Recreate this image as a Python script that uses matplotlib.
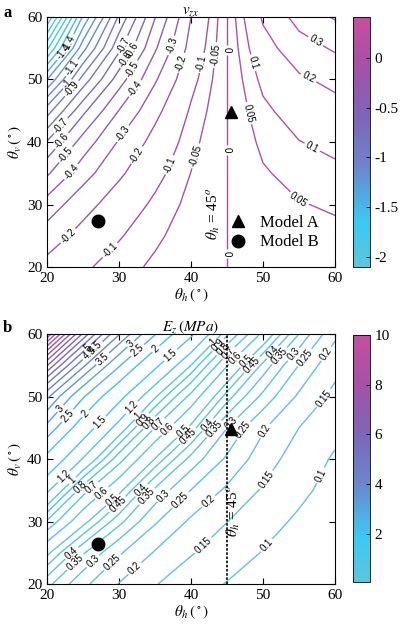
"""
Contour maps of v_zx and E_z over the two strut angles (theta_h, theta_v).
Grid values are read off the reference figure at 5 degree steps.
"""

import numpy as np
import matplotlib

matplotlib.use("Agg")
import matplotlib.pyplot as plt
from matplotlib.colors import LinearSegmentedColormap, Normalize
from matplotlib.cm import ScalarMappable
from matplotlib.lines import Line2D

plt.rcParams["font.family"] = ["Liberation Serif", "DejaVu Serif"]
plt.rcParams["mathtext.fontset"] = "stix"
plt.rcParams["axes.unicode_minus"] = False

# --- data -----------------------------------------------------------------
theta_h = [20, 25, 30, 35, 40, 45, 50, 55, 60]
theta_v = [20, 25, 30, 35, 40, 45, 50, 55, 60]

# rows: theta_v = 20 ... 60, columns: theta_h = 20 ... 60
vzx = [
    [-0.168, -0.111, -0.071, -0.040, -0.016, 0.0, 0.011, 0.017, 0.021],
    [-0.252, -0.166, -0.106, -0.060, -0.024, 0.0, 0.019, 0.030, 0.037],
    [-0.357, -0.236, -0.150, -0.086, -0.034, 0.0, 0.030, 0.047, 0.057],
    [-0.515, -0.340, -0.216, -0.123, -0.049, 0.0, 0.044, 0.069, 0.084],
    [-0.693, -0.457, -0.291, -0.166, -0.066, 0.0, 0.062, 0.098, 0.119],
    [-0.945, -0.624, -0.397, -0.227, -0.090, 0.0, 0.085, 0.135, 0.164],
    [-1.302, -0.859, -0.547, -0.312, -0.124, 0.0, 0.117, 0.185, 0.226],
    [-1.722, -1.137, -0.723, -0.413, -0.164, 0.0, 0.162, 0.256, 0.312],
    [-2.100, -1.386, -0.882, -0.504, -0.200, 0.0, 0.213, 0.336, 0.410],
]

ez = [
    [0.368, 0.264, 0.198, 0.153, 0.121, 0.098, 0.081, 0.070, 0.062],
    [0.517, 0.357, 0.257, 0.196, 0.154, 0.124, 0.098, 0.082, 0.069],
    [0.787, 0.527, 0.368, 0.257, 0.192, 0.151, 0.118, 0.093, 0.076],
    [1.246, 0.741, 0.522, 0.340, 0.249, 0.192, 0.145, 0.111, 0.085],
    [1.859, 1.185, 0.741, 0.497, 0.333, 0.242, 0.176, 0.127, 0.095],
    [2.858, 1.733, 1.105, 0.698, 0.482, 0.301, 0.206, 0.150, 0.113],
    [4.137, 2.560, 1.616, 1.020, 0.670, 0.427, 0.287, 0.192, 0.138],
    [6.554, 4.137, 2.560, 1.584, 1.000, 0.607, 0.387, 0.249, 0.165],
    [10.00, 6.424, 4.055, 2.535, 1.568, 0.923, 0.577, 0.350, 0.212],
]

levels_vzx = [-2.0, -1.9, -1.8, -1.7, -1.6, -1.5, -1.4, -1.3, -1.2, -1.1, -1.0,
              -0.9, -0.8, -0.7, -0.6, -0.5, -0.4, -0.3, -0.2, -0.1, -0.05,
              0.0, 0.05, 0.1, 0.2, 0.3, 0.4]
levels_ez = [0.1, 0.15, 0.2, 0.25, 0.3, 0.35, 0.4, 0.45, 0.5, 0.6, 0.7, 0.8,
             0.9, 1.0, 1.2, 1.5, 2.0, 2.5, 3.0, 3.5, 4.0, 4.5, 5.0, 5.5, 6.0,
             6.5, 7.0, 7.5, 8.0, 8.5, 9.0, 9.5]

# the two prototypes (theta_h, theta_v)
model_a_a = (45.6, 44.8)
model_b_a = (27.1, 27.4)
model_a_b = (45.6, 44.8)
model_b_b = (27.1, 26.4)

theta_ref = 45

# --- layout: where the contour labels sit (theta_h, theta_v) ---------------
label_pos_a = [(23.0, 55.8), (22.5, 54.5), (23.2, 52.1), (23.0, 49.1), (23.7, 48.3),
               (30.1, 55.8), (31.3, 55.0), (31.5, 53.4), (32.0, 51.5), (32.2, 48.6),
               (37.8, 55.3), (38.9, 52.6), (41.7, 52.6), (43.3, 53.9), (45.0, 54.7),
               (48.4, 52.6), (57.0, 55.5), (56.3, 50.2), (57.0, 39.5), (48.0, 44.6),
               (54.9, 30.7), (45.0, 38.7), (45.0, 22.2), (40.6, 37.8), (37.1, 36.3),
               (32.5, 37.9), (30.8, 41.1), (22.3, 42.2), (21.6, 40.6), (22.7, 37.9),
               (23.4, 35.2), (23.0, 24.9), (28.75, 22.7)]

label_pos_b = [(25.5, 58.0), (26.0, 56.7), (27.1, 57.5), (27.6, 56.2), (31.5, 58.6),
               (32.5, 57.5), (35.0, 57.8), (37.1, 56.7), (43.0, 58.8), (43.8, 58.2),
               (44.4, 57.6), (45.2, 57.0), (46.1, 56.2), (47.7, 55.6), (48.4, 55.1),
               (51.4, 57.0), (52.6, 56.2), (54.0, 57.0), (55.8, 56.2), (58.6, 57.0),
               (57.9, 50.3), (22.0, 47.9), (23.0, 46.8), (25.5, 47.1), (27.4, 45.8),
               (31.8, 48.2), (32.7, 46.8), (33.3, 46.3), (34.0, 46.0), (35.5, 45.5),
               (36.8, 44.7), (38.9, 44.4), (39.4, 43.9), (42.4, 45.4), (43.1, 44.9),
               (46.2, 45.0), (47.5, 44.4), (50.5, 44.4), (22.3, 37.2), (23.7, 36.4),
               (24.6, 35.6), (26.2, 35.4), (27.6, 34.6), (29.0, 33.6), (29.7, 32.9),
               (33.2, 34.9), (33.8, 34.1), (36.4, 33.9), (38.7, 33.3), (42.4, 33.3),
               (50.5, 36.6), (58.0, 37.4), (23.4, 25.0), (23.9, 23.6), (26.4, 23.6),
               (28.75, 23.9), (32.2, 22.5), (41.7, 26.2), (50.5, 26.2)]

cmap = LinearSegmentedColormap.from_list(
    "teal_magenta",
    [(0.0, "#5cc6da"), (0.18, "#3bc9f3"), (0.4, "#6b86cc"),
     (0.6, "#7f65b6"), (0.8, "#a352a8"), (1.0, "#c84e9e")],
)

TH, TV = np.meshgrid(theta_h, theta_v)
VZX = np.array(vzx)
EZ = np.array(ez)

fig = plt.figure(figsize=(4, 6.29), dpi=100)
ax_a = fig.add_axes([0.1175, 0.5755, 0.72, 0.3975])
cax_a = fig.add_axes([0.8825, 0.5755, 0.0425, 0.3975])
ax_b = fig.add_axes([0.1175, 0.0715, 0.72, 0.3975])
cax_b = fig.add_axes([0.8825, 0.0747, 0.0425, 0.3927])


def style_axes(ax):
    ax.set_xlim(20, 60)
    ax.set_ylim(20, 60)
    ax.set_xticks([20, 30, 40, 50, 60])
    ax.set_yticks([20, 30, 40, 50, 60])
    ax.tick_params(direction="in", top=True, right=True, length=4,
                   labelsize=11, width=0.8)
    ax.set_xlabel(r"$\theta_h\,(^\circ)$", fontsize=11, labelpad=1)
    ax.set_ylabel(r"$\theta_v\,(^\circ)$", fontsize=11, labelpad=2)
    for s in ax.spines.values():
        s.set_linewidth(0.8)


def style_cbar(cb):
    cb.ax.tick_params(direction="in", length=3, labelsize=11, width=0.6)
    cb.outline.set_linewidth(0.6)


# --- a: Poisson's ratio ---------------------------------------------------
norm_a = Normalize(VZX.min(), VZX.max())
cs_a = ax_a.contour(TH, TV, VZX, levels=levels_vzx,
                    colors=[cmap(norm_a(l)) for l in levels_vzx], linewidths=1.0)
with plt.rc_context({"font.family": ["Liberation Sans", "DejaVu Sans"]}):
    ax_a.clabel(cs_a, fmt="%g", fontsize=7, colors="k", inline=True,
                inline_spacing=2, manual=label_pos_a)

ax_a.plot(*model_a_a, "^", color="k", ms=8)
ax_a.plot(*model_b_a, "o", color="k", ms=9)
ax_a.text(43.1, 28.5, r"$\theta_h$ = 45$^o$", rotation=90, fontsize=11,
          ha="center", va="center")
handles = [Line2D([], [], ls="", marker="^", color="k", ms=8),
           Line2D([], [], ls="", marker="o", color="k", ms=9)]
ax_a.legend(handles, ["Model A", "Model B"], loc="lower right", frameon=False,
            fontsize=12, handletextpad=0.3, borderaxespad=0.6, labelspacing=0.2)
ax_a.set_title(r"$v_{zx}$", fontsize=11, pad=3)
style_axes(ax_a)

cb_a = fig.colorbar(ScalarMappable(norm=norm_a, cmap=cmap), cax=cax_a)
cb_a.set_ticks([-2, -1.5, -1, -0.5, 0])
cb_a.set_ticklabels(["-2", "-1.5", "-1", "-0.5", "0"])
style_cbar(cb_a)

# --- b: Young's modulus (contoured on log scale so spacing follows the map)
norm_b = Normalize(EZ.min(), EZ.max())
cs_b = ax_b.contour(TH, TV, np.log(EZ), levels=np.log(levels_ez),
                    colors=[cmap(norm_b(l)) for l in levels_ez], linewidths=1.0)
fmt_b = {lv: f"{v:g}" for lv, v in zip(cs_b.levels, levels_ez)}
with plt.rc_context({"font.family": ["Liberation Sans", "DejaVu Sans"]}):
    ax_b.clabel(cs_b, fmt=fmt_b, fontsize=7, colors="k", inline=True,
                inline_spacing=2, manual=label_pos_b)

ax_b.axvline(theta_ref, color="k", ls=(0, (1.5, 1)), lw=1.2)
ax_b.plot(*model_a_b, "^", color="k", ms=8)
ax_b.plot(*model_b_b, "o", color="k", ms=9)
ax_b.text(45.9, 31.7, r"$\theta_h$ = 45$^o$", rotation=90, fontsize=11,
          ha="center", va="center")
ax_b.set_title(r"$E_z\,(MPa)$", fontsize=11, pad=3)
style_axes(ax_b)

cb_b = fig.colorbar(ScalarMappable(norm=norm_b, cmap=cmap), cax=cax_b)
cb_b.set_ticks([2, 4, 6, 8, 10])
style_cbar(cb_b)

fig.text(0.008, 0.992, "a", fontsize=12, fontweight="bold", va="top")
fig.text(0.008, 0.491, "b", fontsize=12, fontweight="bold", va="top")

fig.savefig("out.png", dpi=100)
